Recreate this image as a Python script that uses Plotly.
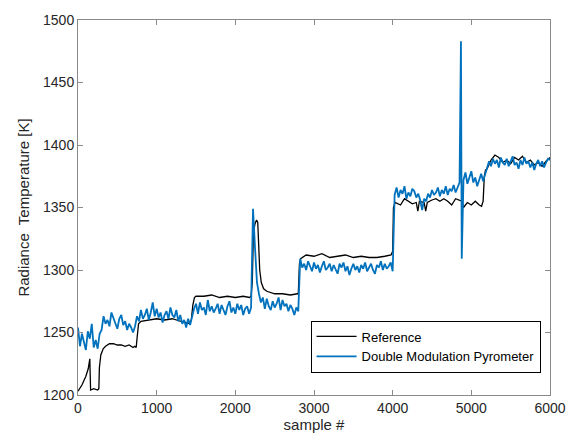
import plotly.graph_objects as go

# ---------------- Reference (black) ----------------
ref_x = [0, 50, 100, 130, 150, 155, 160, 200, 250, 265, 272, 290, 320, 350, 400, 450, 500, 550, 600,
         650, 700, 720, 740, 750, 770, 800, 900, 1000, 1100, 1200, 1300, 1380, 1420, 1440, 1460,
         1480, 1500, 1600, 1700, 1800, 1900, 2000, 2100, 2180, 2200, 2215, 2230, 2250, 2270, 2285,
         2295, 2310, 2330, 2360, 2400, 2450, 2500, 2600, 2700, 2790, 2800, 2815, 2830, 2900, 3000,
         3100, 3200, 3300, 3400, 3500, 3600, 3700, 3800, 3900, 3980, 4000, 4010, 4030, 4100, 4150,
         4200, 4250, 4300, 4320, 4340, 4400, 4420, 4440, 4500, 4550, 4600, 4650, 4700, 4750, 4800,
         4850, 4880, 4900, 4950, 5000, 5050, 5100, 5130, 5150, 5165, 5180, 5200, 5250, 5300, 5350,
         5400, 5450, 5500, 5550, 5600, 5650, 5700, 5750, 5800, 5850, 5900, 5950, 6000]
ref_y = [1203, 1208, 1215, 1221, 1229, 1205, 1204, 1205, 1204, 1205, 1222, 1232, 1237, 1239, 1241, 1241, 1240, 1240, 1239,
         1240, 1238, 1239, 1238, 1245, 1257, 1259, 1260, 1261, 1260, 1261, 1259, 1258, 1257, 1260, 1272,
         1278, 1279, 1279, 1280, 1278, 1279, 1278, 1279, 1278, 1279, 1290, 1330, 1337, 1340, 1338,
         1320, 1300, 1290, 1285, 1283, 1282, 1281, 1281, 1280, 1281, 1281, 1305, 1309, 1312, 1311,
         1313, 1310, 1311, 1312, 1310, 1311, 1310, 1310, 1311, 1312, 1315, 1350, 1354, 1352, 1357,
         1355, 1353, 1354, 1347, 1355, 1354, 1347, 1354, 1356, 1357, 1355, 1357, 1355, 1352, 1357,
         1356, 1355, 1350, 1354, 1352, 1355, 1352, 1351, 1355, 1375, 1380, 1381, 1388, 1392, 1390,
         1386, 1388, 1385, 1390, 1388, 1391, 1386, 1388, 1384, 1386, 1383, 1387, 1390]

# ---------------- Double Modulation Pyrometer (blue), segments sampled every 25 ----------------
step = 25
dmp_seg1_start = 0
dmp_seg1 = [1254, 1239, 1249, 1243, 1236, 1251, 1245, 1257, 1238, 1244, 1237, 1249]
dmp_seg2_start = 300
dmp_seg2 = [1252, 1263, 1257, 1260, 1255, 1266, 1262, 1258, 1253, 1261, 1264, 1256, 1259, 1252, 1257, 1254, 1250]
dmp_seg3_start = 725
dmp_seg3 = [1255, 1263, 1259, 1268, 1261, 1264, 1269, 1260, 1266, 1274, 1263, 1269, 1262, 1266, 1258,
            1264, 1267, 1261, 1270, 1264, 1262, 1268, 1259, 1264, 1257, 1260, 1254, 1261, 1256, 1263]
dmp_seg4_start = 1475
dmp_seg4 = [1269, 1273, 1265, 1274, 1268, 1270, 1264, 1276, 1267, 1271, 1266, 1269, 1273, 1265, 1272,
            1268, 1264, 1271, 1275, 1266, 1270, 1265, 1273, 1268, 1272, 1264, 1269, 1271, 1265]
dmp_seg5_start = 2200
dmp_seg5 = [1270, 1349, 1318, 1290, 1281, 1274, 1278, 1269, 1277, 1271, 1268, 1275, 1270, 1273, 1278,
            1268, 1276, 1271, 1273, 1267, 1272, 1269, 1264, 1270, 1267]
dmp_seg6_start = 2825
dmp_seg6 = [1309, 1302, 1305, 1300, 1307, 1303, 1299, 1306, 1301, 1304, 1298, 1303, 1307, 1300, 1302,
            1305, 1299, 1304, 1301, 1297, 1305, 1302, 1306, 1299, 1303, 1296, 1301, 1305, 1300, 1303,
            1298, 1304, 1301, 1306, 1299, 1302, 1305, 1300, 1297, 1304, 1302, 1307, 1300, 1305, 1301,
            1303, 1306, 1299]
dmp_seg7_start = 4025
dmp_seg7 = [1360, 1366, 1358, 1364, 1361, 1367, 1357, 1362, 1359, 1365, 1363, 1358, 1361, 1356, 1348,
            1357, 1355, 1361, 1358, 1364, 1360, 1362, 1366, 1359, 1364, 1361, 1367, 1360, 1365, 1363,
            1368, 1362, 1366, 1370]
dmp_spike_x = [4868, 4878]
dmp_spike_y = [1483, 1309]
dmp_seg8_start = 4900
dmp_seg8 = [1372, 1378, 1369, 1375, 1379, 1370, 1374, 1367, 1373, 1377, 1371, 1376]
dmp_seg9_start = 5200
dmp_seg9 = [1381, 1387, 1383, 1389, 1385, 1388, 1382, 1390, 1386, 1384, 1389, 1383, 1387, 1391, 1384,
            1386, 1381, 1388, 1384, 1390, 1385, 1387, 1382, 1386, 1380, 1385, 1388, 1383, 1387, 1382,
            1386, 1389, 1388]

x_ticks = [0, 1000, 2000, 3000, 4000, 5000, 6000]
y_ticks = [1200, 1250, 1300, 1350, 1400, 1450, 1500]

blue_x, blue_y = [], []
for start, seg in [(dmp_seg1_start, dmp_seg1), (dmp_seg2_start, dmp_seg2), (dmp_seg3_start, dmp_seg3),
                   (dmp_seg4_start, dmp_seg4), (dmp_seg5_start, dmp_seg5), (dmp_seg6_start, dmp_seg6),
                   (dmp_seg7_start, dmp_seg7)]:
    blue_x += [start + step * i for i in range(len(seg))]
    blue_y += seg
blue_x += dmp_spike_x
blue_y += dmp_spike_y
for start, seg in [(dmp_seg8_start, dmp_seg8), (dmp_seg9_start, dmp_seg9)]:
    blue_x += [start + step * i for i in range(len(seg))]
    blue_y += seg

fig = go.Figure()
fig.add_trace(go.Scatter(x=ref_x, y=ref_y, mode="lines", name="Reference",
                         line=dict(color="black", width=1.3)))
fig.add_trace(go.Scatter(x=blue_x, y=blue_y, mode="lines", name="Double Modulation Pyrometer",
                         line=dict(color="#0072BD", width=1.8)))

axis_common = dict(showgrid=False, zeroline=False, showline=True, linecolor="#8a8a8a", linewidth=1,
                   mirror="ticks", ticks="inside", ticklen=5, tickcolor="#8a8a8a",
                   tickfont=dict(family="Liberation Sans, Arial", size=14, color="#262626"))

fig.update_layout(
    width=578, height=442,
    margin=dict(l=78, r=23, t=17, b=47),
    paper_bgcolor="white", plot_bgcolor="white",
    font=dict(family="Liberation Sans, Arial", color="#262626"),
    xaxis=dict(range=[0, 6000], tickvals=x_ticks, **axis_common,
               title=dict(text="sample #", font=dict(size=15, color="#262626"), standoff=4)),
    yaxis=dict(range=[1200, 1500], tickvals=y_ticks, **axis_common,
               title=dict(text="Radiance  Temperature [K]", font=dict(size=15, color="#262626"), standoff=9)),
    legend=dict(x=0.98, y=0.06, xanchor="right", yanchor="bottom",
                bordercolor="black", borderwidth=1, bgcolor="white",
                font=dict(family="Liberation Sans, Arial", size=13, color="black"),
                tracegroupgap=0, itemwidth=40, traceorder="normal"),
    showlegend=True,
)

fig.write_html("out.html")
